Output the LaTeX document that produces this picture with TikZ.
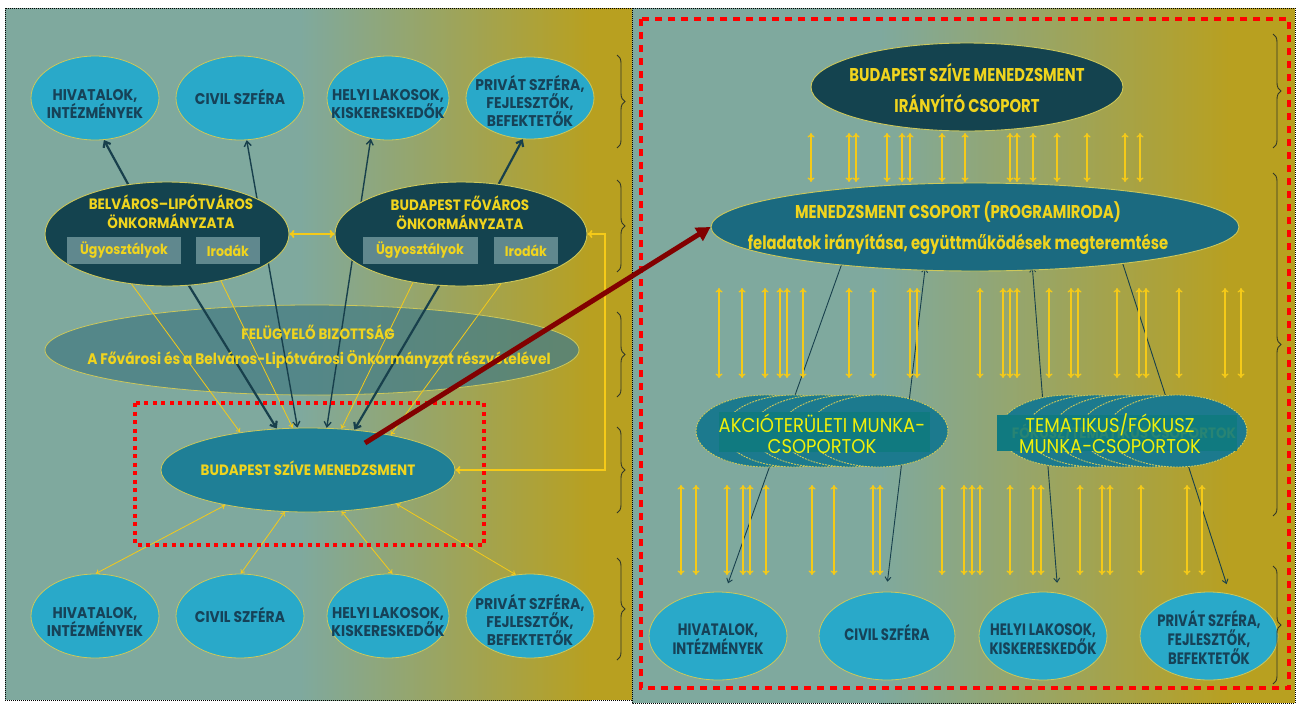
\documentclass[tikz,border=0pt]{standalone}
\usepackage{fontspec}
\setmainfont{Poppins}
\newfontfamily\cg[FakeStretch=0.9]{Poppins}
\newfontfamily\cgc[FakeStretch=0.8]{Poppins}
\usetikzlibrary{arrows.meta,decorations.pathreplacing,shapes.geometric}
\pgfdeclarelayer{bgl}
\pgfdeclarelayer{lnl}
\pgfsetlayers{bgl,lnl,main}
\definecolor{bgteal}{RGB}{127,169,158}
\definecolor{bggold}{RGB}{184,160,32}
\definecolor{lblue}{RGB}{41,169,201}
\definecolor{dtext}{RGB}{22,66,88}
\definecolor{dell}{RGB}{20,67,79}
\definecolor{mteal}{RGB}{31,127,150}
\definecolor{mcsc}{RGB}{27,106,128}
\definecolor{ytext}{RGB}{240,212,30}
\definecolor{yarr}{RGB}{245,202,24}
\definecolor{boxteal}{RGB}{16,122,128}
\definecolor{brighty}{RGB}{240,240,10}
\definecolor{darkred}{RGB}{130,0,0}
\definecolor{subbox}{RGB}{96,136,142}
\definecolor{feluc}{RGB}{72,126,132}
\definecolor{elly}{RGB}{205,200,90}
\definecolor{stkc}{RGB}{28,122,142}
\definecolor{ghostc}{RGB}{40,132,116}
\definecolor{darkl}{RGB}{24,64,76}
\definecolor{bracec}{RGB}{50,55,40}
\tikzset{
  lb/.style={ellipse, draw=elly, line width=0.8pt, fill=lblue, inner sep=0pt},
  de/.style={ellipse, draw=elly, line width=0.9pt, fill=dell, inner sep=0pt},
  me/.style={ellipse, draw=elly, line width=0.8pt, fill=mteal, inner sep=0pt},
  mc/.style={ellipse, draw=elly, line width=0.9pt, fill=mcsc, inner sep=0pt},
  stk/.style={ellipse, draw=elly, line width=0.9pt, dash pattern=on 2pt off 1pt, fill=stkc, inner sep=0pt, minimum width=140pt, minimum height=72pt},
  sb/.style={rectangle, fill=subbox, inner sep=0pt},
  tbox/.style={rectangle, fill=boxteal, inner sep=0pt},
  feluel/.style={ellipse, draw=elly, line width=0.8pt, fill=feluc, fill opacity=0.78, inner sep=0pt},
  dtxt/.style={text=dtext, font=\cg\bfseries\fontsize{15.5}{18}\selectfont, align=center, inner sep=0pt},
  dtxtr/.style={text=dtext, font=\cgc\bfseries\fontsize{16.5}{19}\selectfont, align=center, inner sep=0pt},
  ytxt/.style={text=ytext, font=\cg\bfseries\fontsize{15}{19}\selectfont, align=center, inner sep=0pt},
  ytxtr/.style={text=ytext, font=\cgc\bfseries\fontsize{18.5}{31}\selectfont, align=center, inner sep=0pt},
  stxt/.style={text=brighty, font=\cg\fontsize{20}{21}\selectfont, align=center, inner sep=0pt},
  ghost/.style={text=ghostc, font=\cg\bfseries\fontsize{15}{16}\selectfont, inner sep=0pt},
  dotb/.style={draw=black, line width=1pt, dash pattern=on 1pt off 1pt},
  ya/.style={draw=yarr, line width=0.8pt, >={To[length=4pt,width=5.5pt]}, <->},
  yv/.style={draw=yarr, line width=1.3pt, >={To[length=4.5pt,width=7pt]}, <->},
  yb/.style={draw=yarr, line width=1.8pt, >={To[length=5pt,width=8pt]}, <->},
  dka/.style={draw=darkl, line width=2.2pt, >={Straight Barb[length=5pt,width=8pt]}, ->},
  dkb/.style={draw=darkl, line width=1.4pt, >={Straight Barb[length=5pt,width=7pt]}, <->},
  dkc/.style={draw=darkl, line width=0.9pt, >={Straight Barb[length=4pt,width=6pt]}, <->},
  reddot/.style={draw=red, line width=4pt, dash pattern=on 4pt off 4.5pt},
  reddash/.style={draw=red, line width=4.5pt, dash pattern=on 7pt off 6pt},
  redarr/.style={draw=darkred, line width=5pt, >={Triangle[length=14pt,width=15pt]}, ->},
  brc/.style={draw=bracec, line width=0.9pt, decorate, decoration={brace, amplitude=8pt}},
}
\begin{document}
\begin{tikzpicture}[x=1pt,y=-1pt]
\begin{pgfonlayer}{bgl}
\fill[white] (0,0) rectangle (1298,705);
\fill[bgteal] (5,8) rectangle (301,700);
\shade[left color=bgteal,right color=bggold] (300,8) rectangle (591,700);
\fill[bggold] (590,8) rectangle (632,700);
\fill[bgteal] (632,8) rectangle (881,703);
\shade[left color=bgteal,right color=bggold] (880,8) rectangle (1231,703);
\fill[bggold] (1230,8) rectangle (1295,703);
\draw[dotb] (5,8) rectangle (632,700);
\draw[dotb] (632,8) rectangle (1295,703);
\node[feluel, minimum width=534pt, minimum height=90pt] (felu) at (312,350) {};
\end{pgfonlayer}

% left panel ellipses
\node[lb, minimum width=128pt, minimum height=84pt] (hivT) at (95,98) {};
\node[lb, minimum width=128pt, minimum height=84pt] (civT) at (240,98) {};
\node[lb, minimum width=122pt, minimum height=84pt] (helT) at (388,98) {};
\node[lb, minimum width=128pt, minimum height=82pt] (priT) at (530,98) {};
\node[lb, minimum width=128pt, minimum height=84pt] (hivB) at (95,616) {};
\node[lb, minimum width=128pt, minimum height=84pt] (civB) at (240,616) {};
\node[lb, minimum width=122pt, minimum height=84pt] (helB) at (388,616) {};
\node[lb, minimum width=128pt, minimum height=84pt] (priB) at (530,616) {};
\node[de, minimum width=244pt, minimum height=104pt] (bel) at (167,234) {};
\node[de, minimum width=252pt, minimum height=104pt] (fov) at (461,234) {};
\node[sb, minimum width=114pt, minimum height=27pt] (bu1) at (124,250.5) {};
\node[sb, minimum width=64pt, minimum height=27pt] (bi1) at (228,250.5) {};
\node[sb, minimum width=115pt, minimum height=27pt] (bu2) at (420,250.5) {};
\node[sb, minimum width=64pt, minimum height=27pt] (bi2) at (526,250.5) {};
\node[me, minimum width=294pt, minimum height=84pt] (bsm) at (308,470) {};

% right panel ellipses
\node[de, minimum width=312pt, minimum height=88pt] (irany) at (967,87) {};
\node[mc, minimum width=528pt, minimum height=88pt] (mcs) at (975,227) {};
\foreach \i/\c in {1/766,2/794,3/822,4/850,5/878} \node[stk] (ak\i) at (\c,431) {};
\foreach \i/\c in {1/1069,2/1096,3/1123,4/1150,5/1177} \node[stk] (tm\i) at (\c,431) {};
\node[tbox, minimum width=211pt, minimum height=40pt] (akbox) at (824,432) {};
\node[tbox, minimum width=240pt, minimum height=36pt] (tmbox) at (1117,432.5) {};
\node[lb, minimum width=138pt, minimum height=88pt] (rhiv) at (718,636) {};
\node[lb, minimum width=136pt, minimum height=88pt] (rciv) at (887,636) {};
\node[lb, minimum width=128pt, minimum height=88pt] (rhel) at (1043,636) {};
\node[lb, minimum width=138pt, minimum height=88pt] (rpri) at (1209,636) {};

% texts left
\node[dtxt] (hivTt) at (95,104) {HIVATALOK,\\INTÉZMÉNYEK};
\node[dtxt] (civTt) at (240,97) {CIVIL SZFÉRA};
\node[dtxt] (helTt) at (388,104) {HELYI LAKOSOK,\\KISKERESKEDŐK};
\node[dtxt] (priTt) at (530,101) {PRIVÁT SZFÉRA,\\FEJLESZTŐK,\\BEFEKTETŐK};
\node[dtxt] (hivBt) at (95,622) {HIVATALOK,\\INTÉZMÉNYEK};
\node[dtxt] (civBt) at (240,615) {CIVIL SZFÉRA};
\node[dtxt] (helBt) at (388,622) {HELYI LAKOSOK,\\KISKERESKEDŐK};
\node[dtxt] (priBt) at (530,620) {PRIVÁT SZFÉRA,\\FEJLESZTŐK,\\BEFEKTETŐK};
\node[ytxt] (belt) at (171,212) {BELVÁROS–LIPÓTVÁROS\\ÖNKORMÁNYZATA};
\node[ytxt] (fovt) at (460,213) {BUDAPEST FŐVÁROS\\ÖNKORMÁNYZATA};
\node[ytxt, font=\cg\bfseries\fontsize{14}{16}\selectfont] (bu1t) at (bu1) {Ügyosztályok};
\node[ytxt, font=\cg\bfseries\fontsize{14}{16}\selectfont] (bi1t) at (bi1) {Irodák};
\node[ytxt, font=\cg\bfseries\fontsize{14}{16}\selectfont] (bu2t) at (bu2) {Ügyosztályok};
\node[ytxt, font=\cg\bfseries\fontsize{14}{16}\selectfont] (bi2t) at (bi2) {Irodák};
\node[ytxt] (felut1) at (318,332) {FELÜGYELŐ BIZOTTSÁG};
\node[ytxt, font=\cg\bfseries\fontsize{15.3}{16}\selectfont] (felut2) at (319,360) {A Fővárosi és a Belváros-Lipótvárosi Önkormányzat részvételével};
\node[ytxt] (bsmt) at (308,468) {BUDAPEST SZÍVE MENEDZSMENT};

% texts right
\node[ytxtr] (iranyt) at (967,88) {BUDAPEST SZÍVE MENEDZSMENT\\IRÁNYÍTÓ CSOPORT};
\node[ytxtr] (mcst) at (958,228) {MENEDZSMENT CSOPORT (PROGRAMIRODA)\\feladatok irányítása, együttműködések megteremtése};
\node[ghost] (tmg) at (1124,433) {FÓKUSZ/TEMATIKUS CSOPORTOK};
\node[stxt] (akt) at (822,434) {AKCIÓTERÜLETI MUNKA-\\CSOPORTOK};
\node[stxt] (tmt) at (1110,434) {TEMATIKUS/FÓKUSZ\\MUNKA-CSOPORTOK};
\node[dtxtr] (rhivt) at (718,639) {HIVATALOK,\\INTÉZMÉNYEK};
\node[dtxtr] (rcivt) at (887,632) {CIVIL SZFÉRA};
\node[dtxtr] (rhelt) at (1043,639) {HELYI LAKOSOK,\\KISKERESKEDŐK};
\node[dtxtr] (rprit) at (1209,637) {PRIVÁT SZFÉRA,\\FEJLESZTŐK,\\BEFEKTETŐK};

% connectors
\begin{pgfonlayer}{lnl}
\draw[dka] (bel.128) -- (hivT.282);
\draw[dka] (bel.293) -- (bsm.127);
\draw[dkb] (civT.279) -- (bsm.104);
\draw[dkb] (helT.247) -- (bsm.66);
\draw[dka] (fov.247) -- (bsm.41);
\draw[dka] (fov.53) -- (priT.260);
\draw[ya] (bu1.243) -- (bsm.151);
\draw[ya] (bi1.222) -- (bsm.110);
\draw[ya] (bu2.278) -- (bsm.51);
\draw[ya] (bi2.232) -- (bsm.23);
\draw[ya] (bsm.203) -- (hivB.89);
\draw[ya] (bsm.241) -- (civB.89);
\draw[ya] (bsm.309) -- (helB.84);
\draw[ya] (bsm.339) -- (priB.109);
\draw[yb] (bel.east) -- (fov.west);
\coordinate (fbk) at (605,470);
\draw[yb, line width=1.6pt] (bsm.east) -- (fbk) |- (fov.east);
\draw[dkc, shorten <=-6pt, shorten >=9pt] (mcs.196) -- (rhiv.81);
\draw[dkc, shorten <=-3pt, shorten >=10pt] (mcs.221) -- (rciv.91);
\draw[dkc, shorten <=-3pt, shorten >=10pt] (mcs.323) -- (rhel.71);
\draw[dkc, shorten <=-8pt, shorten >=10pt] (mcs.346) -- (rpri.64);
\foreach \x in {811,849,856,887,902,910,942,965,1010,1017,1033,1057,1087,1125,1140}
  \draw[yv] (\x,133) -- (\x,182);
\foreach \x in {719,742,765,780,787,803,849,873,910,917,980,1003,1010,1017,1049,1071,1078,1117,1139,1146,1179,1225,1241}
  \draw[yv] (\x,288) -- (\x,378);
\foreach \x in {681,696,727,743,750,766,812,834,873,880,942,964,972,980,1010,1033,1041,1080,1102,1110,1141,1187,1202}
  \draw[yv] (\x,485) -- (\x,575);
\end{pgfonlayer}

% braces
\draw[brc] (617,55) -- (617,148);
\draw[brc] (617,180) -- (617,272);
\draw[brc] (617,312) -- (617,397);
\draw[brc] (617,427) -- (617,513);
\draw[brc] (617,558) -- (617,660);
\draw[brc] (1273,34) -- (1273,148);
\draw[brc] (1273,173) -- (1273,516);
\draw[brc] (1273,566) -- (1273,684);

% red frames and arrow
\draw[reddot] (135,403) rectangle (484,545);
\draw[reddash] (641,19) rectangle (1289,688);
\coordinate (rs) at (365,443);
\draw[redarr] (rs) -- (mcs.west);
\end{tikzpicture}
\end{document}
